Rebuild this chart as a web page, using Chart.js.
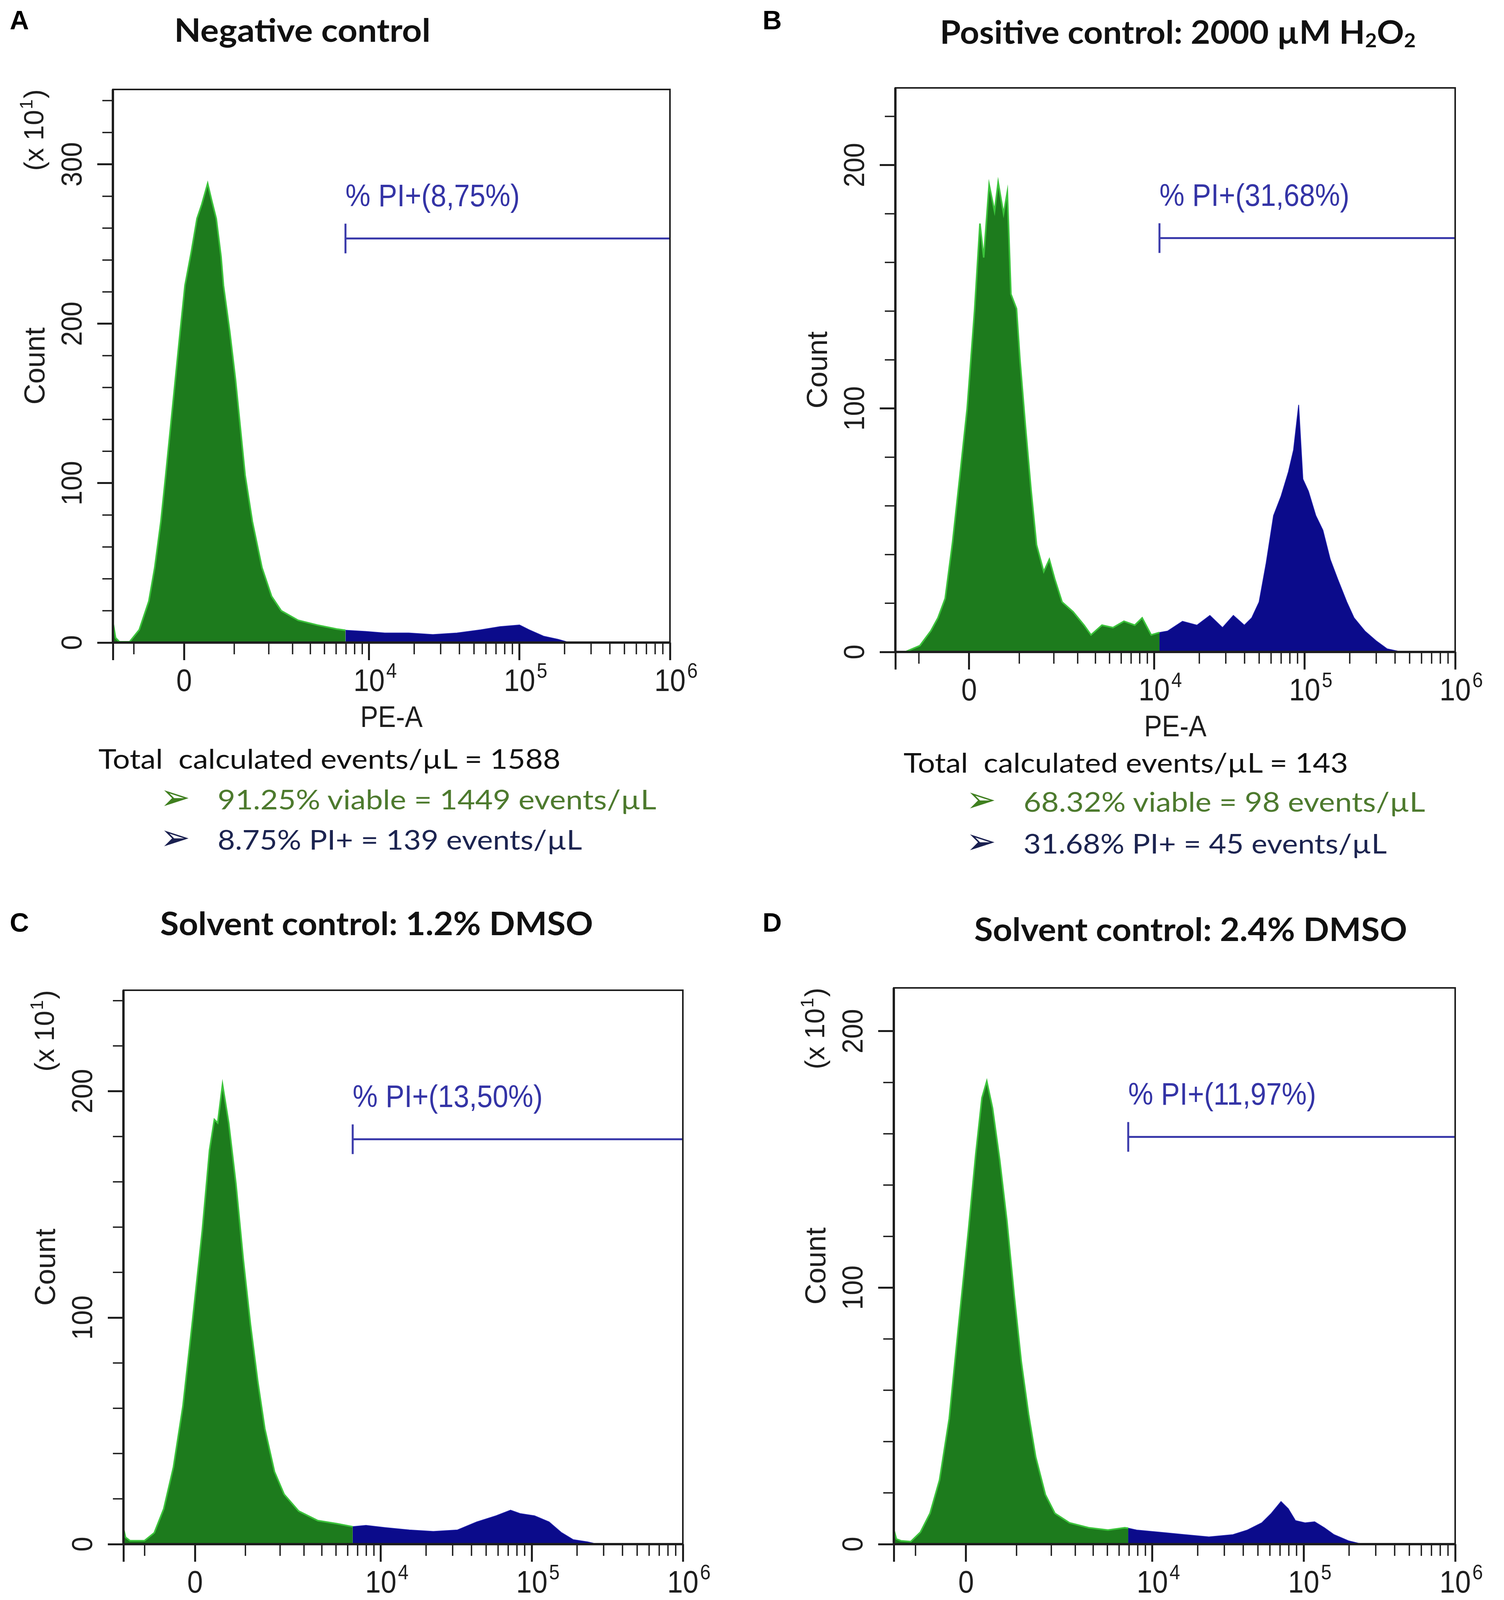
<!DOCTYPE html>
<html>
<head>
<meta charset="utf-8">
<script src="https://cdn.jsdelivr.net/npm/chart.js@4.4.7/dist/chart.umd.min.js"></script>
<style>
  html, body { margin: 0; padding: 0; background: #fff; }
  #page { position: relative; width: 3850px; height: 4564px; overflow: hidden; background: #fff; }
  canvas { position: absolute; }
  .txt { position: absolute; top: 0; white-space: pre; line-height: 1; transform-origin: 0 0; }
  .letter { font-family: "Liberation Sans", Arial, sans-serif; font-weight: bold; font-size: 68px; color: #000; }
  .title { font-family: Lato, sans-serif; font-weight: bold; font-size: 83px; color: #111; }
  .info { font-family: Lato, sans-serif; font-size: 70px; color: #111; }
  .viable { color: #4d7a2e; }
  .pi { color: #1c2450; }
  .arrow { font-family: "DejaVu Sans", sans-serif; font-size: 92px; }
  .arrow.viable { color: #3f7f1f; }
  .arrow.pi { color: #1a2050; }
  sub { font-size: 0.6em; vertical-align: -0.18em; line-height: 0; }
  .bl { display: inline-block; width: 0; height: 0; }
</style>
</head>
<body>
<div id="page"></div>
<script>
// PE-A position is in display units of the biexponential axis (0 -> 0, 10^4 -> 1.23, 10^5 -> 2.23, 10^6 -> 3.23)
const aX = [-0.473, -0.455, -0.43, -0.362, -0.298, -0.234, -0.195, -0.154, -0.122, -0.09, -0.058, -0.026, 0.006, 0.048, 0.086, 0.118, 0.157, 0.182, 0.214, 0.246, 0.262, 0.304, 0.342, 0.374, 0.406, 0.454, 0.518, 0.582, 0.646, 0.758, 0.886, 1.014, 1.073, 1.206, 1.334, 1.494, 1.654, 1.814, 1.974, 2.1, 2.23, 2.294, 2.39, 2.486, 2.55, 2.62, 3.23];
const aCount = [13, 3, 0.5, 0.5, 8, 26, 47, 76, 105, 135, 165, 195, 224, 245, 266, 275, 288, 278, 266, 242, 224, 195, 165, 135, 105, 76, 47, 29, 20, 14, 11, 8.5, 7.7, 7, 6, 6, 5, 6, 8, 10, 11, 8, 4, 2, 0.3, 0, 0];

const bX = [-0.49, -0.426, -0.327, -0.255, -0.207, -0.159, -0.11, -0.062, -0.013, 0.036, 0.072, 0.097, 0.133, 0.169, 0.193, 0.229, 0.254, 0.278, 0.315, 0.338, 0.374, 0.411, 0.448, 0.496, 0.533, 0.569, 0.618, 0.691, 0.764, 0.81, 0.883, 0.956, 1.029, 1.101, 1.15, 1.21, 1.265, 1.32, 1.418, 1.514, 1.6, 1.684, 1.756, 1.829, 1.878, 1.927, 1.974, 2.023, 2.073, 2.122, 2.156, 2.19, 2.218, 2.255, 2.304, 2.351, 2.4, 2.449, 2.51, 2.558, 2.63, 2.704, 2.777, 2.873, 3.23];
const bCount = [0, 0, 2.6, 8.6, 14, 22, 45, 72, 100, 140, 176, 162, 192, 181, 193, 180, 189, 147, 141, 120, 93, 67, 44, 33, 38, 30, 20.5, 16.5, 11, 7, 11, 10, 12.6, 11, 14, 7, 8, 8.6, 12.6, 11, 15, 10, 15, 11, 14, 20.5, 36.5, 56, 64, 74, 83, 101.5, 71, 66, 56, 50, 38, 30, 20.5, 14, 8.6, 4.6, 1.3, 0, 0];

const cX = [-0.474, -0.46, -0.43, -0.335, -0.27, -0.207, -0.143, -0.08, -0.016, 0.048, 0.096, 0.128, 0.15, 0.182, 0.223, 0.271, 0.319, 0.367, 0.415, 0.462, 0.526, 0.59, 0.686, 0.813, 0.941, 1.044, 1.132, 1.26, 1.419, 1.578, 1.738, 1.865, 1.993, 2.089, 2.152, 2.248, 2.344, 2.424, 2.503, 2.599, 2.663, 3.23];
const cCount = [7, 3, 1.5, 1.5, 5, 15.6, 34, 61, 99, 138.5, 174, 187.5, 186, 203, 186, 159, 126, 97, 72, 51, 32, 22, 14.6, 10.4, 9, 7.7, 8.3, 7.3, 6.25, 5.6, 6.25, 9.8, 12.5, 15, 13.5, 12.5, 9.8, 5.2, 2, 1, 0, 0];

const dX = [-0.476, -0.46, -0.43, -0.365, -0.302, -0.238, -0.175, -0.111, -0.048, 0.016, 0.064, 0.105, 0.137, 0.175, 0.222, 0.27, 0.318, 0.365, 0.413, 0.46, 0.524, 0.587, 0.683, 0.81, 0.937, 1.048, 1.071, 1.127, 1.286, 1.445, 1.604, 1.762, 1.858, 1.953, 2.016, 2.08, 2.128, 2.175, 2.239, 2.302, 2.366, 2.43, 2.525, 2.588, 2.65, 3.23];
const dCount = [5.5, 2, 1.3, 1, 4.6, 12, 25, 49, 86, 122.5, 152, 174, 180.5, 170, 150, 126, 97, 71, 50.6, 34, 19.3, 12, 8.3, 6.4, 5.5, 6.4, 6.2, 5.5, 4.6, 3.7, 2.8, 3.7, 5.5, 8.3, 12, 16.6, 13.8, 9.2, 8.3, 8.7, 6.4, 3.7, 1.3, 0.4, 0, 0];

const gateX = [1.073, 1.265, 1.044, 1.071];
const gateY = [253.5, 170, 178.8, 158.8];
const gateLabels = ['% PI+(8,75%)', '% PI+(31,68%)', '% PI+(13,50%)', '% PI+(11,97%)'];

const xTickValues = [0, 1.23, 2.23, 3.23];
const xTickBase = ['0', '10', '10', '10'];
const xTickExp = ['', '4', '5', '6'];
const xMinorValues = [-1000, 1000, 2000, 3000, 4000, 5000, 6000, 7000, 8000, 9000,
  20000, 30000, 40000, 50000, 60000, 70000, 80000, 90000,
  200000, 300000, 400000, 500000, 600000, 700000, 800000, 900000];
const yTicksA = [0, 100, 200, 300];
const yTicksBCD = [0, 100, 200];

const titles = ['Negative control', 'Positive control: 2000 µM H<sub>2</sub>O<sub>2</sub>',
  'Solvent control: 1.2% DMSO', 'Solvent control: 2.4% DMSO'];
const totals = [1588, 143, 1187, 1005];
const viablePct = ['91.25%', '68.32%', '98.50%', '88.03%'];
const viableEvents = [1449, 98, 1027, 885];
const piPct = ['8.75%', '31.68%', '13.50%', '11.97%'];
const piEvents = [139, 45, 160, 120];

// plot boxes in page pixels
const panels = [
  { id: 'A', x0: 289, y0: 226, x1: 1715, y1: 1645, xMin: -0.473, yMax: 347, yTicks: yTicksA, exp: true, xs: aX, ys: aCount },
  { id: 'B', x0: 2292, y0: 222, x1: 3725, y1: 1669, xMin: -0.49, yMax: 231.7, yTicks: yTicksBCD, exp: false, xs: bX, ys: bCount },
  { id: 'C', x0: 316, y0: 2532, x1: 1748, y1: 3953, xMin: -0.474, yMax: 244.6, yTicks: yTicksBCD, exp: true, xs: cX, ys: cCount },
  { id: 'D', x0: 2288, y0: 2526, x1: 3725, y1: 3953, xMin: -0.477, yMax: 216.9, yTicks: yTicksBCD, exp: true, xs: dX, ys: dCount }
];

const textLayout = [
  { letter: [25, 75], title: [446, 107, 656], total: [252, 1968, 1183], arrowX: 410, textX: 557, rows: [2072, 2175], widths: [1123, 933] },
  { letter: [1952, 75], title: [2406, 112, 1218], total: [2313, 1978, 1138], arrowX: 2473, textX: 2620, rows: [2078, 2185], widths: [1028, 930] },
  { letter: [25, 2385], title: [410, 2394, 1108], total: [254, 4305, 1171], arrowX: 410, textX: 557, rows: [4410, 4522], widths: [1126, 973] },
  { letter: [1952, 2385], title: [2494, 2409, 1108], total: [2284, 4305, 1193], arrowX: 2473, textX: 2596, rows: [4410, 4522], widths: [1079, 983] }
];

const page = document.getElementById('page');
const FONT = '"Liberation Sans", Arial, sans-serif';
const INK = '#1e1e1e';

// biexponential display position of a PE-A value
const biex = v => Math.sign(v) * Math.asinh(Math.abs(v) / 1182) / Math.LN10;

function label(ctx, s, x, y, size, align, sx, rot) {
  ctx.save();
  ctx.translate(x, y);
  if (rot) ctx.rotate(rot);
  ctx.scale(sx || 1, 1);
  ctx.font = size + 'px ' + FONT;
  ctx.textAlign = align;
  ctx.textBaseline = 'middle';
  ctx.fillText(s, 0, 0);
  ctx.restore();
}

const decor = {
  id: 'flow',
  afterDraw(chart, args, o) {
    const { ctx, chartArea: a, scales: { x, y } } = chart;
    ctx.save();
    ctx.strokeStyle = INK;
    ctx.lineWidth = 4;
    ctx.strokeRect(a.left, a.top, a.right - a.left, a.bottom - a.top);
    ctx.lineWidth = 6;
    ctx.beginPath();
    ctx.moveTo(a.left, a.top); ctx.lineTo(a.left, a.bottom); ctx.lineTo(a.right, a.bottom);
    ctx.stroke();

    // minor ticks
    ctx.lineWidth = 3.5;
    ctx.beginPath();
    xMinorValues.forEach(v => {
      const px = x.getPixelForValue(biex(v));
      if (px > a.left && px < a.right) { ctx.moveTo(px, a.bottom); ctx.lineTo(px, a.bottom + 30); }
    });
    for (let v = 20; v < o.yMax; v += 20) {
      if (v % 100 === 0) continue;
      const py = y.getPixelForValue(v);
      ctx.moveTo(a.left, py); ctx.lineTo(a.left - 27, py);
    }
    ctx.stroke();

    ctx.fillStyle = INK;
    // x tick labels
    xTickValues.forEach((v, k) => {
      const px = x.getPixelForValue(v);
      label(ctx, xTickBase[k], px, a.bottom + 102, 80, 'center', 0.9);
      if (xTickExp[k]) {
        ctx.font = '80px ' + FONT;
        const w = ctx.measureText(xTickBase[k]).width * 0.9;
        label(ctx, xTickExp[k], px + w / 2 + 4, a.bottom + 75, 54, 'left', 0.9);
      }
    });
    // y tick labels
    o.yTicks.forEach(v => {
      label(ctx, String(v), a.left - 100, y.getPixelForValue(v), 74, 'center', 0.92, -Math.PI / 2);
    });
    label(ctx, 'PE-A', (a.left + a.right) / 2, a.bottom + 195, 76, 'center', 0.9);
    label(ctx, 'Count', a.left - 195, (a.top + a.bottom) / 2, 74, 'center', 1, -Math.PI / 2);

    if (o.exp) {
      ctx.save();
      ctx.translate(a.left - 197, a.top + 104);
      ctx.rotate(-Math.PI / 2);
      ctx.textBaseline = 'middle';
      ctx.textAlign = 'left';
      ctx.font = '70px ' + FONT;
      const w1 = ctx.measureText('(x 10').width, w3 = ctx.measureText(')').width;
      ctx.font = '46px ' + FONT;
      const w2 = ctx.measureText('1').width;
      let cx = -(w1 + w2 + w3 + 4) / 2;
      ctx.font = '70px ' + FONT;
      ctx.fillText('(x 10', cx, 0);
      cx += w1 + 2;
      ctx.font = '46px ' + FONT;
      ctx.fillText('1', cx, -22);
      cx += w2 + 2;
      ctx.font = '70px ' + FONT;
      ctx.fillText(')', cx, 0);
      ctx.restore();
    }

    // gate label
    ctx.fillStyle = '#3434a6';
    label(ctx, o.gateLabel, x.getPixelForValue(o.gateX), y.getPixelForValue(o.gateY) - 105, 80, 'left', 0.9);
    ctx.restore();
  }
};

function makeChart(p, i) {
  const mL = 290, mT = 40, mR = 110, mB = 260, tlX = 45, tlY = 40;
  const w = p.x1 - p.x0 + mL + mR, h = p.y1 - p.y0 + mT + mB;
  const cv = document.createElement('canvas');
  cv.width = w; cv.height = h;
  cv.style.left = (p.x0 - mL) + 'px';
  cv.style.top = (p.y0 - mT) + 'px';
  cv.style.width = w + 'px';
  cv.style.height = h + 'px';
  page.appendChild(cv);

  const g = gateX[i];
  const green = [], blue = [];
  p.xs.forEach((x, k) => {
    const pt = { x, y: p.ys[k] };
    if (x <= g) green.push(pt);
    if (x >= g) blue.push(pt);
  });

  const tickGrid = len => ({ drawOnChartArea: false, drawTicks: true, tickLength: len, color: INK, lineWidth: 5 });

  new Chart(cv, {
    type: 'line',
    data: {
      datasets: [
        { data: green, borderColor: '#3cc43c', borderWidth: 4, backgroundColor: '#1d7b1d', fill: 'origin', pointRadius: 0, tension: 0 },
        { data: blue, borderColor: '#1a1aa6', borderWidth: 2, backgroundColor: '#0b0b8b', fill: 'origin', pointRadius: 0, tension: 0 },
        {
          data: [{ x: g, y: gateY[i] }, { x: 3.23, y: gateY[i] }],
          borderColor: '#3b3bab', borderWidth: 5, fill: false,
          pointStyle: 'line', rotation: 90, pointRadius: [38, 0], pointHoverRadius: [38, 0],
          pointBorderWidth: 5, pointBorderColor: '#3b3bab'
        }
      ]
    },
    options: {
      responsive: false,
      animation: false,
      devicePixelRatio: 1,
      events: [],
      layout: { padding: { left: mL - tlY, top: mT, right: mR, bottom: mB - tlX } },
      plugins: {
        legend: { display: false },
        tooltip: { enabled: false },
        flow: { yMax: p.yMax, yTicks: p.yTicks, exp: p.exp, gateX: g, gateY: gateY[i], gateLabel: gateLabels[i] }
      },
      scales: {
        x: {
          type: 'linear', min: p.xMin, max: 3.23,
          afterBuildTicks: s => { s.ticks = [p.xMin].concat(xTickValues).map(v => ({ value: v })); },
          ticks: { display: false },
          grid: tickGrid(tlX),
          border: { display: false }
        },
        y: {
          type: 'linear', min: 0, max: p.yMax,
          afterBuildTicks: s => { s.ticks = p.yTicks.map(v => ({ value: v })); },
          ticks: { display: false },
          grid: tickGrid(tlY),
          border: { display: false }
        }
      }
    },
    plugins: [decor]
  });
}

function place(html, cls, x, base, w) {
  const el = document.createElement('div');
  el.className = 'txt ' + cls;
  el.innerHTML = html + '<span class="bl"></span>';
  el.style.left = x + 'px';
  page.appendChild(el);
  const off = el.querySelector('.bl').offsetTop;
  el.style.top = (base - off) + 'px';
  if (w) {
    const nat = el.getBoundingClientRect().width;
    el.style.transform = 'scaleX(' + (w / nat) + ')';
  }
}

panels.forEach(makeChart);

textLayout.forEach((t, i) => {
  place(panels[i].id, 'letter', t.letter[0], t.letter[1]);
  place(titles[i], 'title', t.title[0], t.title[1], t.title[2]);
  place('Total  calculated events/µL = ' + totals[i], 'info', t.total[0], t.total[1], t.total[2]);
  place('➢', 'arrow viable', t.arrowX, t.rows[0]);
  place(viablePct[i] + ' viable = ' + viableEvents[i] + ' events/µL', 'info viable', t.textX, t.rows[0], t.widths[0]);
  place('➢', 'arrow pi', t.arrowX, t.rows[1]);
  place(piPct[i] + ' PI+ = ' + piEvents[i] + ' events/µL', 'info pi', t.textX, t.rows[1], t.widths[1]);
});
</script>
</body>
</html>
